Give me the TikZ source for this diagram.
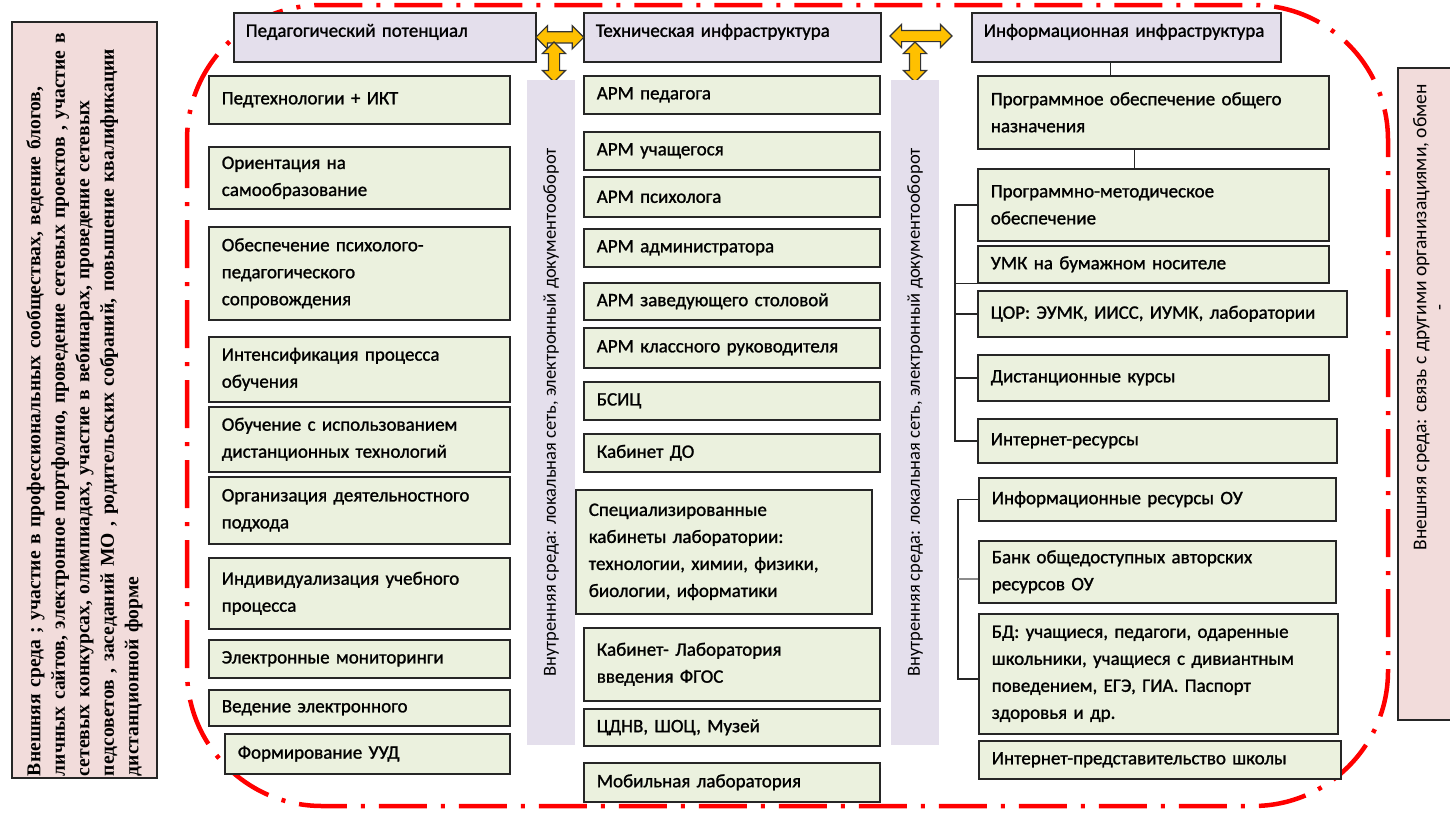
\documentclass[tikz,border=0pt]{standalone}
\usepackage{fontspec}
\setmainfont{Carlito}
\newfontfamily\boxfont{Carlito}[FakeBold=1.2]
\newfontfamily\timesfont{Liberation Serif}
\usetikzlibrary{shapes.arrows,calc}
\definecolor{boxgreen}{HTML}{EBF1DE}
\definecolor{boxlilac}{HTML}{E4DFEC}
\definecolor{boxpink}{HTML}{F2DCDB}
\definecolor{arrgold}{HTML}{FFC000}
\tikzset{
  cell/.style={draw=black!85, line width=1.6pt, fill=boxgreen, anchor=north west,
    align=left, inner xsep=13pt, inner ysep=0pt, font=\boxfont\fontsize{19}{27}\selectfont},
  lcell/.style={cell, text width=275pt},
  mcell/.style={cell, text width=270pt},
  rcell/.style={cell, text width=325pt},
  head/.style={cell, fill=boxlilac, inner xsep=12pt, minimum height=49pt, text height=14pt, text depth=15pt},
  strip/.style={fill=boxlilac, rotate=90, minimum width=665pt, minimum height=48pt,
    font=\fontsize{18.5}{22}\selectfont},
  dblarrow/.style={double arrow, draw=black!80, fill=arrgold, line width=1.2pt,
    inner xsep=0pt, inner ysep=5pt, minimum width=22pt, double arrow head extend=6pt},
  link/.style={draw=black!85, line width=1.4pt},
  redframe/.style={draw=red, line width=4.5pt, rounded corners=135pt,
    dash pattern=on 48pt off 14pt on 4pt off 14pt}
}
\begin{document}
\begin{tikzpicture}[x=1pt, y=-1pt]
  \useasboundingbox (0,0) rectangle (1450,814);
  \draw[redframe] (187,5) rectangle (1388,806);
  % outer boxes
  \node[draw=black!85, line width=1.6pt, fill=boxpink, rotate=90, minimum width=756pt,
    minimum height=145pt, text width=752pt, align=left, inner xsep=2pt,
    font=\timesfont\bfseries\fontsize{19.6}{24.5}\selectfont] (extL) at (84.5,400) {%
    Внешняя среда ; участие в профессиональных сообществах, ведение блогов,\\
    личных сайтов, электронное портфолио, проведение сетевых проектов , участие в\\
    сетевых конкурсах, олимпиадах, участие в вебинарах, проведение сетевых\\
    педсоветов , заседаний МО , родительских собраний, повышение квалификации\\
    дистанционной форме};
  \draw[black!85, line width=1.6pt, fill=boxpink] (1398,68) rectangle (1460,720);
  \node[rotate=90, anchor=north east, align=left, inner sep=0pt,
    font=\fontsize{19.5}{19}\selectfont] (extR) at (1413,84)
    {Внешняя среда: связь с другими организациями, обмен\\\hspace*{240pt}-};
  % headers
  \node[head, text width=278pt] (ped) at (233,12) {Педагогический потенциал};
  \node[head, text width=273pt] (tech) at (583,12) {Техническая инфраструктура};
  \node[head, text width=285pt] (info) at (971,12) {Информационная инфраструктура};
  \node[dblarrow, minimum height=48pt] (arrA) at ($(ped.east)!.5!(tech.west)$) {};
  \node[dblarrow, rotate=90, minimum height=40pt] (arrB) at (554,62) {};
  \node[dblarrow, minimum height=62pt] (arrC) at (921,36) {};
  \node[dblarrow, rotate=90, minimum height=40pt] (arrD) at (915,62) {};
  % inner strips
  \node[strip] (stripL) at (551,412.5) {Внутренняя среда: локальная сеть, электронный документооборот};
  \node[strip] (stripR) at (915,412.5) {Внутренняя среда: локальная сеть, электронный документооборот};
  % pedagogical column
  \node[lcell, minimum height=48pt] (pedikt) at (208,75) {Педтехнологии + ИКТ};
  \node[lcell, minimum height=62pt] (samoobr) at (208,146) {Ориентация на\\самообразование};
  \node[lcell, minimum height=93pt] (psyped) at (208,226) {Обеспечение психолого-\\педагогического\\сопровождения};
  \node[lcell, minimum height=65pt] (intens) at (208,336) {Интенсификация процесса\\обучения};
  \node[lcell, minimum height=65pt] (distob) at (208,406) {Обучение с использованием\\дистанционных технологий};
  \node[lcell, minimum height=67pt] (deyat) at (208,476) {Организация деятельностного\\подхода};
  \node[lcell, minimum height=71pt] (indiv) at (208,557) {Индивидуализация учебного\\процесса};
  \node[lcell, minimum height=38pt] (monit) at (208,639) {Электронные мониторинги};
  \node[lcell, minimum height=36pt] (vedenie) at (208,689) {Ведение электронного};
  \node[cell, text width=259pt, minimum height=40pt] (uud) at (224,733) {Формирование УУД};
  % technical column
  \node[mcell, minimum height=38pt] (armped) at (583,75) {АРМ педагога};
  \node[mcell, minimum height=38pt] (armuch) at (583,131) {АРМ учащегося};
  \node[mcell, minimum height=40pt] (armpsy) at (583,176) {АРМ психолога};
  \node[mcell, minimum height=38pt] (armadm) at (583,228) {АРМ администратора};
  \node[mcell, minimum height=37pt] (armstol) at (583,282) {АРМ заведующего столовой};
  \node[mcell, minimum height=40pt] (armkl) at (583,327) {АРМ классного руководителя};
  \node[mcell, minimum height=38pt] (bsic) at (583,381) {БСИЦ};
  \node[mcell, minimum height=38pt] (kabdo) at (583,433) {Кабинет ДО};
  \node[mcell, minimum height=124pt] (speckab) at (575,489) {Специализированные\\кабинеты лаборатории:\\технологии, химии, физики,\\биологии, иформатики};
  \node[mcell, minimum height=73pt] (fgos) at (583,627) {Кабинет- Лаборатория\\введения ФГОС};
  \node[mcell, minimum height=37pt] (cdnv) at (583,708) {ЦДНВ, ШОЦ, Музей};
  \node[mcell, minimum height=39pt] (mobil) at (583,762) {Мобильная лаборатория};
  % information column
  \node[rcell, minimum height=73pt] (po) at (977,75) {Программное обеспечение общего\\назначения};
  \node[rcell, minimum height=72pt] (pmo) at (977,168) {Программно-методическое\\обеспечение};
  \node[rcell, minimum height=37pt] (umk) at (977,245) {УМК на бумажном носителе};
  \node[cell, text width=343pt, minimum height=46pt] (cor) at (977,290) {ЦОР: ЭУМК, ИИСС, ИУМК, лаборатории};
  \node[rcell, minimum height=46pt] (dist) at (977,354) {Дистанционные курсы};
  \node[cell, text width=333pt, minimum height=44pt] (inet) at (977,418) {Интернет-ресурсы};
  \node[cell, text width=331pt, minimum height=43pt] (infres) at (978,477) {Информационные ресурсы ОУ};
  \node[cell, text width=331pt, minimum height=62pt] (bank) at (978,540) {Банк общедоступных авторских\\ресурсов ОУ};
  \node[cell, text width=333pt, minimum height=120pt] (bd) at (978,613) {БД: учащиеся, педагоги, одаренные\\школьники, учащиеся с дивиантным\\поведением, ЕГЭ, ГИА. Паспорт\\здоровья и др.};
  \node[cell, text width=336pt, minimum height=38pt] (site) at (978,740) {Интернет-представительство школы};
  % links
  \draw[link] ([xshift=-16pt]info.south) -- ([xshift=-16pt]info.south |- po.north);
  \draw[link] ([xshift=-19pt]po.south) -- ([xshift=-19pt]po.south |- pmo.north);
  \draw[link] (pmo.west) -- ++(-22,0) |- (inet.west);
  \draw[link] (umk.south west) -- ++(-22,0);
  \foreach \n in {cor, dist}
    \draw[link] (\n.west) -- ++(-22,0);
  \draw[link] (infres.west) -- ++(-20,0) |- ([yshift=-5pt]bd.west);
  \draw[link, black!45] ([yshift=-7pt]bank.west) -- ++(-20,0);
\end{tikzpicture}
\end{document}
